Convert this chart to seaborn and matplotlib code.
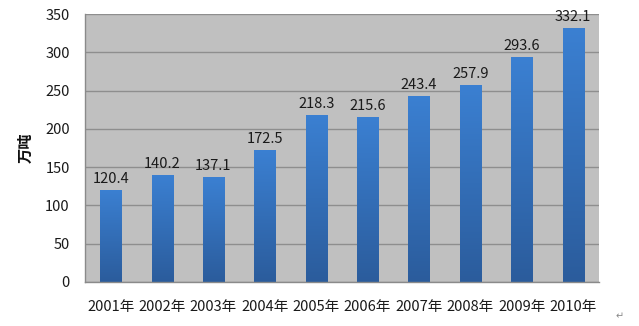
import matplotlib
matplotlib.use("Agg")
import matplotlib.pyplot as plt
import seaborn as sns
import numpy as np
import pandas as pd
from matplotlib.colors import LinearSegmentedColormap

years = ["2001年", "2002年", "2003年", "2004年", "2005年", "2006年", "2007年", "2008年", "2009年", "2010年"]
values = [120.4, 140.2, 137.1, 172.5, 218.3, 215.6, 243.4, 257.9, 293.6, 332.1]
value_labels = ["120.4", "140.2", "137.1", "172.5", "218.3", "215.6", "243.4", "257.9", "293.6", "332.1"]
y_ticks = [0, 50, 100, 150, 200, 250, 300, 350]
y_label = "万吨"

sns.set_theme(style="white")
plt.rcParams['font.family'] = ['Noto Sans CJK SC', 'DejaVu Sans']

df = pd.DataFrame({"year": years, "value": values})

fig = plt.figure(figsize=(6.39, 3.26), dpi=100)
ax = fig.add_axes([0.133, 0.135, 0.804, 0.822])
ax.set_facecolor("#c0c0c0")

sns.barplot(data=df, x="year", y="value", color="#3a7dcc", width=0.41, ax=ax, saturation=1,
            zorder=3, linewidth=0, edgecolor="none")

cmap = LinearSegmentedColormap.from_list("g", ["#2b5c9c", "#3b80d2"])
grad = np.linspace(0, 1, 256).reshape(-1, 1)
for p in ax.patches:
    x0, y0 = p.get_x(), p.get_y()
    w, h = p.get_width(), p.get_height()
    im = ax.imshow(grad, extent=[x0, x0 + w, y0, y0 + h], origin="lower", cmap=cmap,
                   aspect="auto", zorder=4)
    im.set_clip_path(p)

ax.set_xlim(-0.5, len(years) - 0.5)
ax.set_ylim(0, 350)
ax.set_yticks(y_ticks)
ax.yaxis.grid(True, color="#8e8e8e", linewidth=1.0, zorder=1)
ax.set_axisbelow(True)

for i, (v, lab) in enumerate(zip(values, value_labels)):
    ax.text(i, v + 5, lab, ha="center", va="bottom", fontsize=10.5, color="#1a1a1a", zorder=5)

ax.set_xticks(range(len(years)))
ax.set_xticklabels(years, fontsize=10.5, color="#1a1a1a")
ax.set_xticks(np.arange(-0.5, len(years), 1.0), minor=True)
ax.tick_params(axis="x", which="major", length=0, pad=13)
ax.tick_params(axis="x", which="minor", length=5, width=1, color="#8a8a8a", direction="out")
ax.tick_params(axis="y", which="major", length=5, width=1, color="#8a8a8a", direction="out",
               labelsize=10.5, labelcolor="#1a1a1a", pad=6)
ax.set_xlabel("")
ax.set_ylabel(y_label, fontsize=11, fontweight="bold", labelpad=8, color="#111111")

for side in ["top", "right"]:
    ax.spines[side].set_visible(False)
for side in ["left", "bottom"]:
    ax.spines[side].set_color("#8a8a8a")
    ax.spines[side].set_linewidth(1.0)
    ax.spines[side].set_zorder(6)

fig.text(0.963, 0.02, "↵", fontsize=7, color="#888888", family=["DejaVu Sans"])

fig.savefig("out.png", dpi=100)
